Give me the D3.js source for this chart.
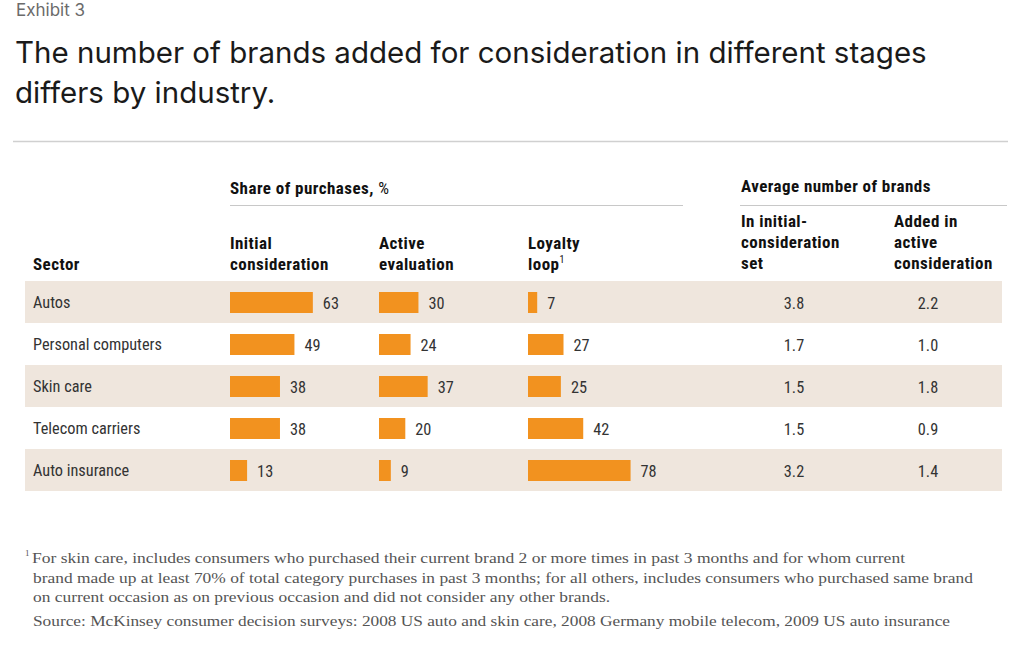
<!DOCTYPE html>
<html><head><meta charset="utf-8">
<script src="https://cdn.jsdelivr.net/npm/d3@7"></script>
<style>
body{margin:0;background:#fff;}
svg{display:block;}
.cond{font-family:"Liberation Sans Narrow","Roboto Condensed","Arial Narrow",sans-serif;}
.hd{font-size:17px;font-weight:bold;letter-spacing:0.45px;fill:#111;}
</style></head>
<body>
<svg id="chart" width="1024" height="649"></svg>
<script>
const sectors = ["Autos","Personal computers","Skin care","Telecom carriers","Auto insurance"];
const initialConsideration = [63,49,38,38,13];
const activeEvaluation = [30,24,37,20,9];
const loyaltyLoop = [7,27,25,42,78];
const brandsInitialSet = ["3.8","1.7","1.5","1.5","3.2"];
const brandsAddedActive = ["2.2","1.0","1.8","0.9","1.4"];
const shareSeries = [
  {key:"Initial consideration", lines:["Initial","consideration"], values: initialConsideration},
  {key:"Active evaluation", lines:["Active","evaluation"], values: activeEvaluation},
  {key:"Loyalty loop", lines:["Loyalty","loop"], values: loyaltyLoop, sup:"1"}
];
const avgSeries = [
  {lines:["In initial-","consideration","set"], values: brandsInitialSet},
  {lines:["Added in","active","consideration"], values: brandsAddedActive}
];

const svg = d3.select("#chart");
const orange = "#F2921F", shade = "#EFE6DD", textCol = "#333";

svg.append("text").attr("x",16).attr("y",16).attr("font-family","Inter, 'Noto Sans', sans-serif")
  .attr("font-size",17).attr("fill","#6b6b6b").text("Exhibit 3");
const titleLines = ["The number of brands added for consideration in different stages","differs by industry."];
titleLines.forEach((t,i)=>{
  svg.append("text").attr("x",15).attr("y",63+i*40)
    .attr("font-family","Inter, 'Noto Sans', sans-serif").attr("font-size",29.5)
    .attr("fill","#1a1a1a").text(t);
});
svg.append("line").attr("x1",13).attr("x2",1008).attr("y1",141.5).attr("y2",141.5)
  .attr("stroke","#d0d0d0").attr("stroke-width",1.5);

const y = d3.scaleBand().domain(sectors).range([281,491]).padding(0);
const x = d3.scaleLinear().domain([0,100]).range([0,131.5]);
const colX = [230,379,528];
const avgX = [794,928];

const rows = svg.append("g");
sectors.forEach((s,i)=>{
  if(i%2===0) rows.append("rect").attr("x",25).attr("width",977)
    .attr("y",y(s)).attr("height",y.bandwidth()).attr("fill",shade);
});

const g = svg.append("g").attr("class","cond");
g.append("text").attr("class","hd").attr("x",230).attr("y",194)
  .text("Share of purchases, ").append("tspan").attr("font-weight","normal").text("%");
g.append("line").attr("x1",230).attr("x2",683).attr("y1",205.5).attr("y2",205.5).attr("stroke","#c8c8c8").attr("stroke-width",1.2);
g.append("text").attr("class","hd").attr("x",741).attr("y",192).text("Average number of brands");
g.append("line").attr("x1",740).attr("x2",1007).attr("y1",205.5).attr("y2",205.5).attr("stroke","#c8c8c8").attr("stroke-width",1.2);

g.append("text").attr("class","hd").attr("x",33).attr("y",270).text("Sector");
shareSeries.forEach((c,j)=>{
  c.lines.forEach((l,k)=>{
    const t = g.append("text").attr("class","hd").attr("x",colX[j]).attr("y",270-(c.lines.length-1-k)*21).text(l);
    if(c.sup && k===c.lines.length-1) t.append("tspan").attr("dy",-7).attr("font-size",10).attr("font-weight","normal").text(c.sup);
  });
});
avgSeries.forEach((c,j)=>{
  const x0 = [741,894][j];
  c.lines.forEach((l,k)=>{
    g.append("text").attr("class","hd").attr("x",x0).attr("y",227+k*21).text(l);
  });
});

g.selectAll("text.sector").data(sectors).join("text").attr("class","sector")
  .attr("x",33).attr("y",d=>y(d)+y.bandwidth()/2+6).attr("font-size",16.3).attr("fill",textCol).text(d=>d);

const barH = 21;
shareSeries.forEach((c,j)=>{
  const gg = g.append("g");
  gg.selectAll("rect").data(c.values).join("rect")
    .attr("x",colX[j]).attr("y",(d,i)=>y(sectors[i])+y.bandwidth()/2-barH/2+0.5)
    .attr("width",d=>x(d)).attr("height",barH).attr("fill",orange);
  gg.selectAll("text").data(c.values).join("text")
    .attr("x",d=>colX[j]+x(d)+10).attr("y",(d,i)=>y(sectors[i])+y.bandwidth()/2+6.5)
    .attr("font-size",16.3).attr("fill",textCol).text(d=>d);
});
avgSeries.forEach((c,j)=>{
  g.append("g").selectAll("text").data(c.values).join("text")
    .attr("x",avgX[j]).attr("text-anchor","middle").attr("y",(d,i)=>y(sectors[i])+y.bandwidth()/2+6.5)
    .attr("font-size",16.3).attr("fill",textCol).text(d=>d);
});

const fn = svg.append("g").attr("font-family","'Liberation Serif','DejaVu Serif',serif").attr("fill","#555").attr("font-size",14.5);
fn.append("text").attr("x",25).attr("y",556).attr("font-size",9).text("1");
const foot = ["For skin care, includes consumers who purchased their current brand 2 or more times in past 3 months and for whom current",
"brand made up at least 70% of total category purchases in past 3 months; for all others, includes consumers who purchased same brand",
"on current occasion as on previous occasion and did not consider any other brands."];
const footW = [873, 940, 577];
foot.forEach((t,i)=>{
  fn.append("text").attr("x",i===0?32:33).attr("y",563+i*19.5).attr("textLength",footW[i]).attr("lengthAdjust","spacingAndGlyphs").text(t);
});
fn.append("text").attr("x",33).attr("y",626).attr("textLength",917).attr("lengthAdjust","spacingAndGlyphs")
  .text("Source: McKinsey consumer decision surveys: 2008 US auto and skin care, 2008 Germany mobile telecom, 2009 US auto insurance");
</script>
</body></html>
